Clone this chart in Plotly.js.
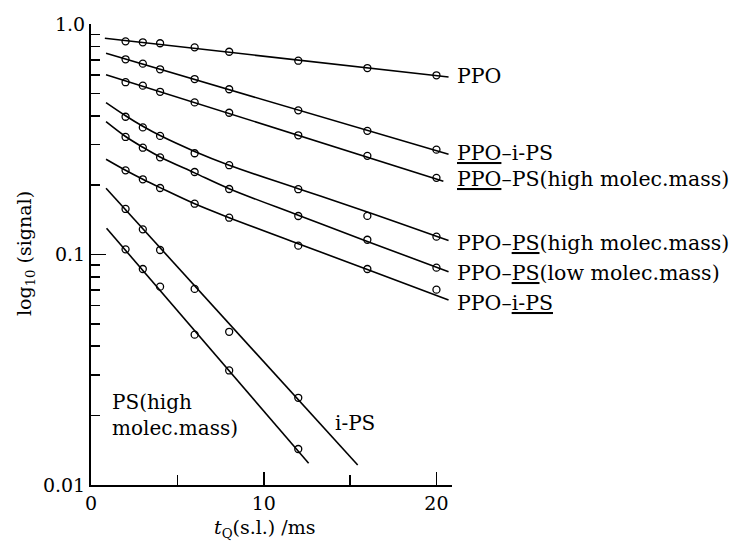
<!DOCTYPE html>
<html>
<head>
<meta charset="utf-8">
<script src="https://cdn.plot.ly/plotly-3.0.1.min.js"></script>
<style>body{margin:0;background:#fff}#chart{width:733px;height:543px}</style>
</head>
<body>
<div id="chart"></div>
<script>
// ---- measured points ----
const xPts = [2, 3, 4, 6, 8, 12, 16, 20];
const ppo         = [0.841, 0.833, 0.825, 0.792, 0.758, 0.693, 0.644, 0.599];
const ppoIPS      = [0.703, 0.673, 0.636, 0.577, 0.521, 0.422, 0.344, 0.285];
const ppoPSHigh   = [0.559, 0.540, 0.508, 0.457, 0.412, 0.329, 0.268, 0.215];
const ppoPSHighPS = [0.396, 0.356, 0.327, 0.275, 0.244, 0.192, 0.147, 0.1195];
const ppoPSLow    = [0.3235, 0.2906, 0.264, 0.228, 0.1924, 0.1469, 0.1159, 0.0877];
const ppoIPSiPS   = [0.2318, 0.212, 0.1943, 0.1661, 0.1444, 0.1092, 0.0865, 0.0704];
const xPS = [2, 3, 4, 6, 8, 12];
const iPS    = [0.1576, 0.1286, 0.1046, 0.0709, 0.0462, 0.0239];
const psHigh = [0.1053, 0.0865, 0.0725, 0.0449, 0.0314, 0.01433];

// ---- drawn fit curves ----
const ppoFitX = [0.8, 20.7];          const ppoFit = [0.867, 0.589];
const ppoIPSFitX = [0.87, 20.7];      const ppoIPSFit = [0.746, 0.272];
const ppoPSHighFitX = [0.87, 20.4];   const ppoPSHighFit = [0.603, 0.208];
const curveX = [0.87, 2, 3, 4, 6, 8, 12, 16, 20.7];
const ppoPSHighPSFit = [0.456, 0.400, 0.360, 0.328, 0.280, 0.244, 0.193, 0.153, 0.115];
const ppoPSLowFit    = [0.377, 0.325, 0.292, 0.265, 0.226, 0.193, 0.148, 0.114, 0.0841];
const ppoIPSiPSFit   = [0.259, 0.232, 0.212, 0.195, 0.166, 0.1445, 0.1114, 0.0861, 0.0635];
const iPSFitX = [0.87, 15.44];        const iPSFit = [0.1937, 0.01221];
const psHighFitX = [0.9, 12.6];       const psHighFit = [0.13, 0.01242];

// ---- labels ----
const yTickVals = [0.01, 0.1, 1];
const yTickText = ['0.01', '0.1', '1.0'];
const xTickVals = [0, 10, 20];
const xTickText = ['0', '10', '20'];
const seriesLabels = [
  'PPO',
  '<u>PPO</u>–i-PS',
  '<u>PPO</u>–PS(high molec.mass)',
  'PPO–<u>PS</u>(high molec.mass)',
  'PPO–<u>PS</u>(low molec.mass)',
  'PPO–<u>i-PS</u>'
];

const FONT = 'DejaVu Serif, Liberation Serif, serif';
const lineStyle = {color: '#000', width: 1.6};
const markStyle = {symbol: 'circle-open', size: 7, color: '#000', line: {width: 1.3, color: '#000'}};

function pts(x, y) { return {x: x, y: y, mode: 'markers', type: 'scatter', marker: markStyle, cliponaxis: false, hoverinfo: 'skip'}; }
function fit(x, y, spline) { return {x: x, y: y, mode: 'lines', type: 'scatter', line: Object.assign({shape: spline ? 'spline' : 'linear'}, lineStyle), cliponaxis: false, hoverinfo: 'skip'}; }

const data = [
  fit(ppoFitX, ppoFit), pts(xPts, ppo),
  fit(ppoIPSFitX, ppoIPSFit), pts(xPts, ppoIPS),
  fit(ppoPSHighFitX, ppoPSHighFit), pts(xPts, ppoPSHigh),
  fit(curveX, ppoPSHighPSFit, true), pts(xPts, ppoPSHighPS),
  fit(curveX, ppoPSLowFit, true), pts(xPts, ppoPSLow),
  fit(curveX, ppoIPSiPSFit, true), pts(xPts, ppoIPSiPS),
  fit(iPSFitX, iPSFit), pts(xPS, iPS),
  fit(psHighFitX, psHighFit), pts(xPS, psHigh)
];

function lab(text, x, y, ref, size) {
  return {text: text, x: x, y: y, xref: ref || 'x', yref: ref || 'y', xanchor: 'left', yanchor: 'middle', showarrow: false, align: 'left', font: {family: FONT, size: size || 20, color: '#000'}};
}
const labelY = [0.887, 0.72, 0.664, 0.525, 0.460, 0.395];

const layout = {
  width: 733, height: 543,
  margin: {l: 91, r: 281, t: 24, b: 58},
  paper_bgcolor: '#fff', plot_bgcolor: '#fff',
  showlegend: false,
  font: {family: FONT, size: 19, color: '#000'},
  xaxis: {
    range: [0, 20.9], showgrid: false, zeroline: false,
    showline: true, linecolor: '#000', linewidth: 2,
    tickmode: 'array', tickvals: xTickVals, ticktext: xTickText,
    ticks: 'inside', ticklen: 13, tickwidth: 1.6, tickcolor: '#000',
    minor: {tickvals: [5, 15], ticks: 'inside', ticklen: 10, tickwidth: 1.6, tickcolor: '#000'},
    tickfont: {family: FONT, size: 19}
  },
  yaxis: {
    type: 'log', range: [-2, 0], showgrid: false, zeroline: false,
    showline: true, linecolor: '#000', linewidth: 2,
    tickmode: 'array', tickvals: yTickVals, ticktext: yTickText,
    ticks: 'inside', ticklen: 15, tickwidth: 1.6, tickcolor: '#000',
    minor: {tickvals: [0.02,0.03,0.04,0.05,0.06,0.07,0.08,0.09,0.2,0.3,0.4,0.5,0.6,0.7,0.8,0.9], ticks: 'inside', ticklen: 9, tickwidth: 1.6, tickcolor: '#000'},
    tickfont: {family: FONT, size: 19}
  },
  annotations: seriesLabels.map((t, i) => lab(t, 1.008, labelY[i], 'paper', 20.5)).concat([
    lab('PS(high<br>molec.mass)', 1.1, -1.698),
    lab('i-PS', 14.0, -1.731),
    {text: 'log<sub>10</sub> (signal)', xref: 'paper', yref: 'paper', x: -0.183, y: 0.503, xanchor: 'center', yanchor: 'middle', textangle: -90, showarrow: false, font: {family: FONT, size: 19, color: '#000'}},
    {text: '<i>t</i><sub>Q</sub>(s.l.) /ms', xref: 'paper', yref: 'paper', x: 0.482, y: -0.095, xanchor: 'center', yanchor: 'middle', showarrow: false, font: {family: FONT, size: 19, color: '#000'}}
  ])
};

Plotly.newPlot('chart', data, layout, {staticPlot: true, displayModeBar: false});
</script>
</body>
</html>
